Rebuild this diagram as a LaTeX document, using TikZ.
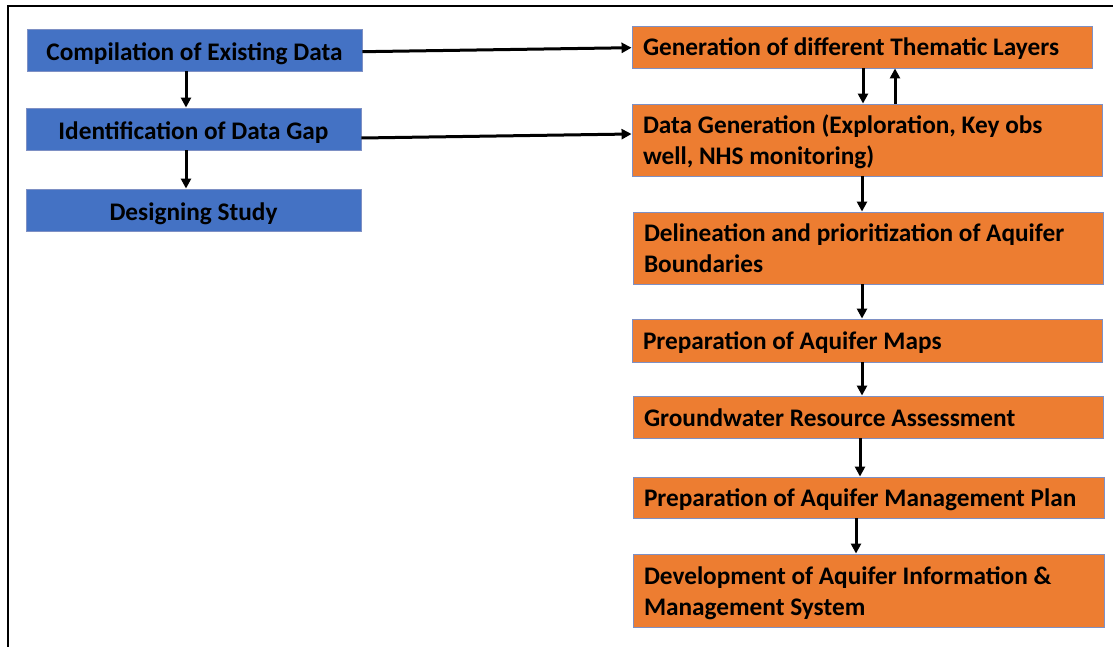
\documentclass[tikz,border=0pt]{standalone}
\usepackage{fontspec}
\setmainfont{Carlito}
\usetikzlibrary{arrows.meta}
\definecolor{bluefill}{HTML}{4472C4}
\definecolor{orangefill}{HTML}{ED7D31}
\definecolor{boxline}{HTML}{7E90C4}
\begin{document}
\begin{tikzpicture}[x=1pt,y=-1pt,
  box/.style={draw=boxline,line width=0.9pt,inner sep=0pt,font=\fontsize{25.3}{31}\selectfont\bfseries},
  bluebox/.style={box,fill=bluefill,minimum width=335pt,minimum height=42pt,align=center,
    execute at begin node={\rule{0pt}{28pt}},execute at end node={\rule[-7pt]{0pt}{7pt}}},
  orangebox/.style={box,fill=orangefill,minimum height=#1,align=flush left,inner xsep=11pt,
    execute at begin node={\rule{0pt}{25pt}},execute at end node={\rule[-7pt]{0pt}{7pt}}},
  arr/.style={line width=3pt,-{Triangle[length=10pt,width=10pt]}}]
\useasboundingbox (0,0) rectangle (1113,647);
\draw[line width=2pt] (8,647) -- (8,6) -- (1113,6);
% left column
\node[bluebox] (c1) at (194.5,50) {Compilation of Existing Data};
\node[bluebox] (c2) at (193.5,129) {Identification of Data Gap};
\node[bluebox] (c3) at (193.5,210) {Designing Study};
% right column
\node[orangebox=42pt,text width=438pt] (o1) at (862,47) {Generation of different Thematic Layers};
\node[orangebox=72pt,text width=448pt] (o2) at (867,140) {Data Generation (Exploration, Key obs\\well, NHS monitoring)};
\node[orangebox=72pt,text width=448pt] (o3) at (868,248) {Delineation and prioritization of Aquifer\\Boundaries};
\node[orangebox=43pt,text width=448pt] (o4) at (867,340.5) {Preparation of Aquifer Maps};
\node[orangebox=42pt,text width=448pt] (o5) at (868,417) {Groundwater Resource Assessment};
\node[orangebox=41pt,text width=449pt] (o6) at (868.5,497.5) {Preparation of Aquifer Management Plan};
\node[orangebox=73pt,text width=449pt] (o7) at (868.5,590.5) {Development of Aquifer Information \&\\Management System};
% connectors
\draw[arr] ([xshift=-8.5pt]c1.south) -- ([xshift=-8.5pt]c1.south |- c2.north);
\draw[arr] ([xshift=-7.5pt]c2.south) -- ([xshift=-7.5pt]c2.south |- c3.north);
\draw[arr] ([yshift=-1.7pt]c1.east) -- ([yshift=-0.7pt]o1.west);
\draw[arr] ([yshift=-9pt]c2.east) -- ([yshift=6pt]o2.west);
\draw[arr] ([xshift=1pt]o1.south) -- ([xshift=1pt]o1.south |- o2.north);
\draw[arr] ([xshift=28pt]o2.north) -- ([xshift=28pt]o2.north |- o1.south);
\draw[arr] ([xshift=-5pt]o2.south) -- ([xshift=-5pt]o2.south |- o3.north);
\draw[arr] ([xshift=-6pt]o3.south) -- ([xshift=-6pt]o3.south |- o4.north);
\draw[arr] ([xshift=-5pt]o4.south) -- ([xshift=-5pt]o4.south |- o5.north);
\draw[arr] ([xshift=-8pt]o5.south) -- ([xshift=-8pt]o5.south |- o6.north);
\draw[arr] ([xshift=-12.5pt]o6.south) -- ([xshift=-12.5pt]o6.south |- o7.north);
\end{tikzpicture}
\end{document}
